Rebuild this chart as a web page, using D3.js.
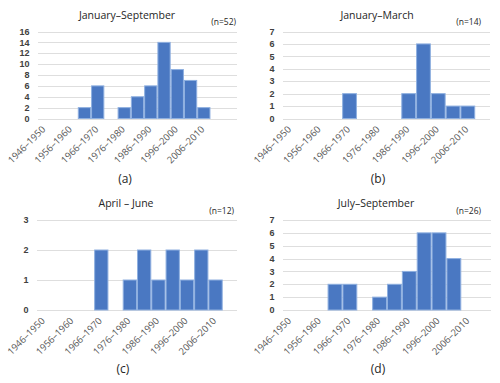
<!DOCTYPE html>
<html>
<head>
<meta charset="utf-8">
<script src="https://cdn.jsdelivr.net/npm/d3@7"></script>
<style>
  body { margin: 0; background: #fff; }
  svg { display: block; font-family: 'Open Sans', 'Liberation Sans', sans-serif; }
</style>
</head>
<body>
<svg id="chart" width="500" height="383"></svg>
<script>
(function () {
  'use strict';

  // 5-year bins
  const categories = [
    '1946–1950', '1951–1955', '1956–1960', '1961–1965', '1966–1970',
    '1971–1975', '1976–1980', '1981–1985', '1986–1990', '1991–1995',
    '1996–2000', '2001–2005', '2006–2010', '2011–2015'
  ];

  // counts per bin
  const janSep = [0, 0, 0, 2, 6, 0, 2, 4, 6, 14, 9, 7, 2, 0];
  const janMar = [0, 0, 0, 0, 2, 0, 0, 0, 2, 6, 2, 1, 1, 0];
  const aprJun = [0, 0, 0, 0, 2, 0, 1, 2, 1, 2, 1, 2, 1, 0];
  const julSep = [0, 0, 0, 2, 2, 0, 1, 2, 3, 6, 6, 4, 0, 0];

  const titles = ['January–September', 'January–March', 'April – June', 'July–September'];
  const counts = ['(n=52)', '(n=14)', '(n=12)', '(n=26)'];
  const letters = ['(a)', '(b)', '(c)', '(d)'];
  const yMax = [16, 7, 3, 7];
  const yStep = [2, 1, 1, 1];

  const panels = [
    { data: janSep, x0: 38, x1: 237, y0: 31.5, y1: 118.5, extra: 1, tx: 127, ty: 15, nx: 236, ny: 22, lx: 125, ly: 179 },
    { data: janMar, x0: 283, x1: 490, y0: 31.5, y1: 118.5, extra: 0, tx: 377, ty: 15, nx: 481, ny: 22, lx: 378, ly: 179 },
    { data: aprJun, x0: 37, x1: 237, y0: 220, y1: 310, extra: 0, tx: 126, ty: 203, nx: 234, ny: 211, lx: 123, ly: 369 },
    { data: julSep, x0: 283, x1: 491, y0: 220, y1: 310, extra: 0, tx: 376, ty: 203, nx: 481, ny: 211, lx: 378, ly: 369 }
  ];

  const svg = d3.select('#chart');

  panels.forEach(function (p, i) {
    const g = svg.append('g');

    const domain = categories.slice();
    for (let k = 0; k < p.extra; k++) domain.push('pad' + k);

    const x = d3.scaleBand().domain(domain).range([p.x0, p.x1]).padding(0);
    const y = d3.scaleLinear().domain([0, yMax[i]]).range([p.y1, p.y0]);
    const ticks = d3.range(0, yMax[i] + 0.001, yStep[i]);

    // gridlines
    g.selectAll('line.grid')
      .data(ticks)
      .enter()
      .append('line')
      .attr('x1', p.x0)
      .attr('x2', p.x1)
      .attr('y1', function (d) { return Math.round(y(d)) + 0.5; })
      .attr('y2', function (d) { return Math.round(y(d)) + 0.5; })
      .attr('stroke', '#dedede')
      .attr('stroke-width', 1);

    // y tick labels
    g.selectAll('text.ytick')
      .data(ticks)
      .enter()
      .append('text')
      .attr('x', p.x0 - 8.5)
      .attr('y', function (d) { return y(d); })
      .attr('dy', '0.35em')
      .attr('text-anchor', 'end')
      .attr('font-family', "'Liberation Sans', sans-serif")
      .attr('font-size', 9)
      .attr('font-weight', 'bold')
      .attr('fill', '#404040')
      .text(function (d) { return d; });

    // bars
    g.selectAll('rect.bar')
      .data(p.data.map(function (v, k) { return { cat: categories[k], v: v }; }).filter(function (d) { return d.v > 0; }))
      .enter()
      .append('rect')
      .attr('x', function (d) { return x(d.cat) + 0.5; })
      .attr('y', function (d) { return y(d.v); })
      .attr('width', x.bandwidth() - 1)
      .attr('height', function (d) { return y(0) - y(d.v); })
      .attr('fill', '#4a78c2')
      .attr('stroke', '#8fb0e0')
      .attr('stroke-width', 1);

    // x labels, every other bin
    g.selectAll('text.xlab')
      .data(categories.filter(function (c, k) { return k % 2 === 0; }))
      .enter()
      .append('text')
      .attr('transform', function (d) {
        const cx = x(d) + x.bandwidth() / 2 - 1;
        return 'translate(' + cx + ',' + (p.y1 + 9) + ') rotate(-45)';
      })
      .attr('text-anchor', 'end')
      .attr('dy', '0.35em')
      .attr('font-size', 9.5)
      .attr('fill', '#595959')
      .text(function (d) { return d; });

    // title
    g.append('text')
      .attr('x', p.tx)
      .attr('y', p.ty)
      .attr('dy', '0.35em')
      .attr('text-anchor', 'middle')
      .attr('font-size', 10.5)
      .attr('fill', '#262626')
      .text(titles[i]);

    // n label
    g.append('text')
      .attr('x', p.nx)
      .attr('y', p.ny)
      .attr('dy', '0.35em')
      .attr('text-anchor', 'end')
      .attr('font-size', 8.5)
      .attr('fill', '#262626')
      .text(counts[i]);

    // panel letter
    g.append('text')
      .attr('x', p.lx)
      .attr('y', p.ly)
      .attr('dy', '0.35em')
      .attr('text-anchor', 'middle')
      .attr('font-size', 12)
      .attr('fill', '#262626')
      .text(letters[i]);
  });
})();
</script>
</body>
</html>
